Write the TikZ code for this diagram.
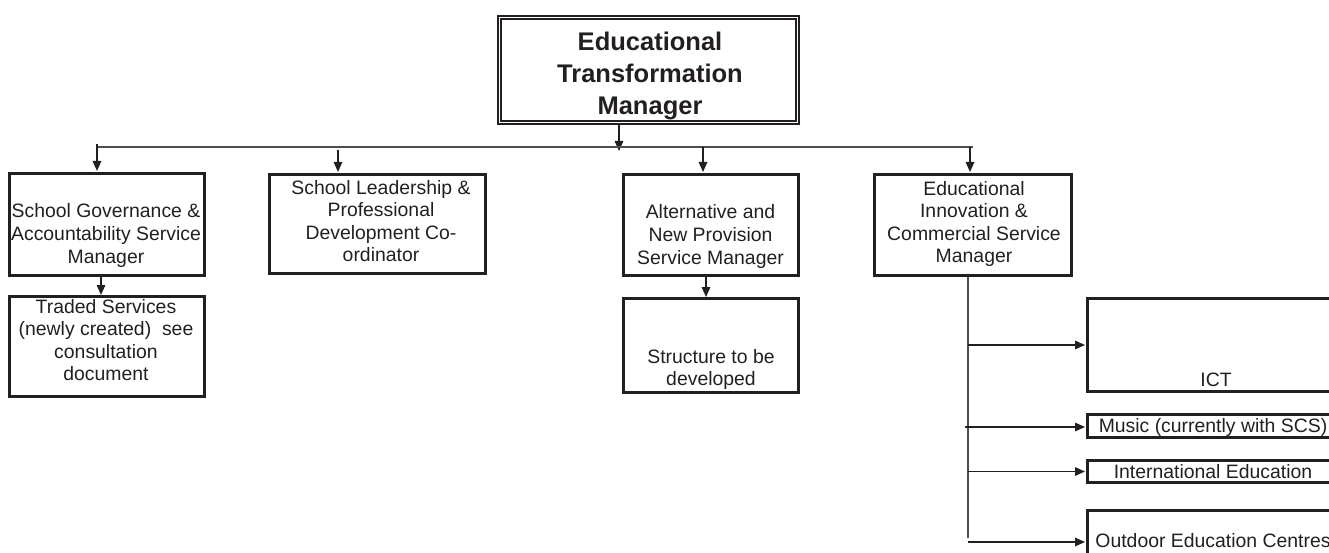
\documentclass[tikz,border=0pt]{standalone}
\usepackage{fontspec}
\setmainfont{Liberation Sans}
\usetikzlibrary{arrows.meta}
\definecolor{ink}{RGB}{35,31,32}

\begin{document}
\begin{tikzpicture}[x=1pt,y=-1pt,
  box/.style={draw=ink,line width=3.2pt,inner sep=0pt},
  boss/.style={draw=ink,double,double distance=1.5pt,line width=1.7pt,inner sep=0pt},
  txt/.style={align=center,inner sep=0pt,text=ink,font=\fontsize{19.4}{22.6}\selectfont},
  head/.style={align=center,inner sep=0pt,text=ink,font=\fontsize{25.5}{32}\selectfont\bfseries},
  arr/.style={draw=ink,line width=1.5pt,-{Triangle[length=10pt,width=8.5pt]}},
  rail/.style={draw=ink!80,line width=1.3pt}]

    \useasboundingbox (0,0) rectangle (1329,553);
    \clip (0,0) rectangle (1329,553);

    \node[boss,minimum width=298.1pt,minimum height=105.1pt] (mgr) at (648.5,70) {};
    \node[head] (mgrt) at (650,75.5) {Educational\\Transformation\\Manager};

    \node[box,minimum width=194.8pt,minimum height=101.8pt] (a1) at (107,224.5) {};
    \node[txt] (a1t) at (106,235.5) {School Governance \&\\Accountability Service\\Manager};
    \node[box,minimum width=194.8pt,minimum height=99.8pt] (a2) at (107,346.5) {};
    \node[txt] (a2t) at (106,340) {Traded Services\\(newly created)~ see\\consultation\\document};

    \node[box,minimum width=215.8pt,minimum height=98.8pt] (b1) at (377.5,224) {};
    \node[txt] (b1t) at (381,221) {School Leadership \&\\Professional\\Development Co-\\ordinator};

    \node[box,minimum width=174.8pt,minimum height=100.8pt] (c1) at (711,225) {};
    \node[txt] (c1t) at (710.5,236.5) {Alternative and\\New Provision\\Service Manager};
    \node[box,minimum width=174.8pt,minimum height=93.8pt] (c2) at (711,345.5) {};
    \node[txt] (c2t) at (711,369.5) {Structure to be\\developed};

    \node[box,minimum width=196.8pt,minimum height=100.8pt] (d1) at (973,225) {};
    \node[txt] (d1t) at (974,224) {Educational\\Innovation \&\\Commercial Service\\Manager};

    % right hand boxes run off the page, as in the original
    \node[box,minimum width=251.8pt,minimum height=92.8pt] (e1) at (1213.5,345) {};
    \node[txt] (e1t) at (1216,380) {ICT};
    \node[box,minimum width=251.8pt,minimum height=22.8pt] (e2) at (1213.5,426) {};
    \node[txt] (e2t) at (1213,427) {Music (currently with SCS)};
    \node[box,minimum width=251.8pt,minimum height=21.8pt] (e3) at (1213.5,471.5) {};
    \node[txt] (e3t) at (1213,471.5) {International Education};
    \node[box,minimum width=251.8pt,minimum height=62.8pt] (e4) at (1213.5,542) {};
    \node[txt] (e4t) at (1213,541) {Outdoor Education Centres};

    % bus under the manager
    \coordinate (busL) at (96,147);
    \coordinate (busR) at (973,147);
    \coordinate (busT) at (619,151);
    \coordinate (p1) at (97,144);
    \coordinate (p2) at (338,150);
    \coordinate (p3) at (703,147);
    \coordinate (p4) at (970,147);

    \draw[arr] (busT |- mgr.south) -- (busT);
    \draw[rail] (busL) -- (busR);

    \draw[arr] (p1) -- ([yshift=1pt]p1 |- a1.north);
    \draw[arr] (p2) -- ([yshift=1pt]p2 |- b1.north);
    \draw[arr] (p3) -- ([yshift=1pt]p3 |- c1.north);
    \draw[arr] (p4) -- ([yshift=1pt]p4 |- d1.north);

    \draw[arr] ([xshift=-6pt]a1.south) -- ([xshift=-6pt]a2.north);
    \draw[arr] ([xshift=-5pt]c1.south) -- ([xshift=-5pt]c2.north);

    % spine down the right side
    \coordinate (vb) at (968,538);
    \coordinate (mus) at (965,427);

    \draw[rail] (vb |- d1.south) -- (vb);
    \draw[arr] (vb |- e1.west) -- ([xshift=-1pt]e1.west);
    \draw[arr] (mus) -- ([xshift=-1pt]mus -| e2.west);
    \draw[arr] (vb |- e3.west) -- ([xshift=-1pt]e3.west);
    \draw[arr] (vb |- e4.west) -- ([xshift=-1pt]e4.west);

\end{tikzpicture}
\end{document}
